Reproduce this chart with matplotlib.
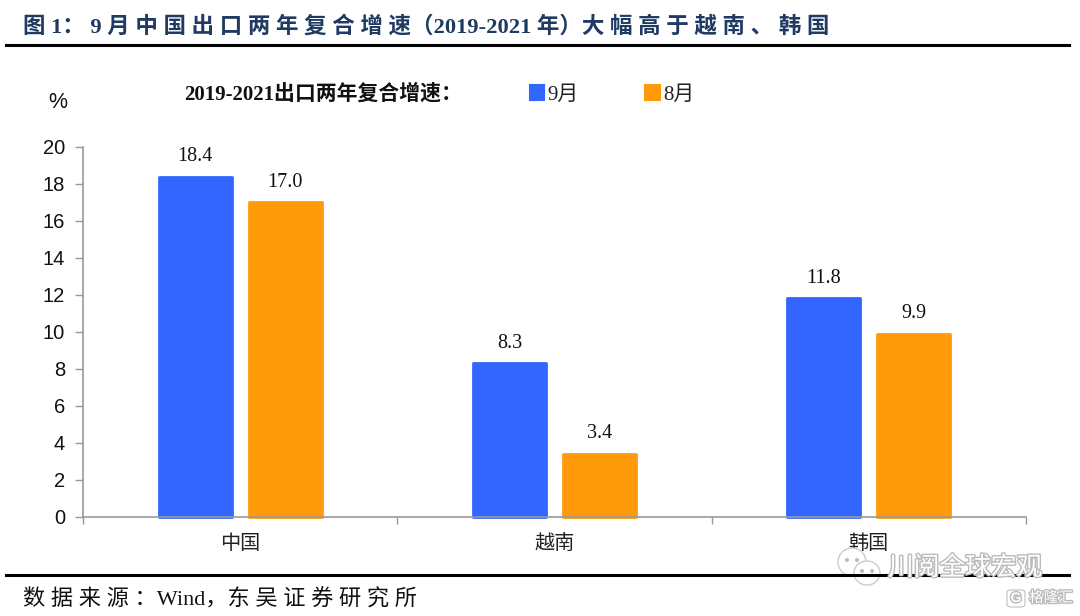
import matplotlib
matplotlib.use("Agg")
import matplotlib.pyplot as plt
from matplotlib.lines import Line2D
from matplotlib.patches import Ellipse, FancyBboxPatch, Patch
import matplotlib.patheffects as pe
import numpy as np

SERIF = ["Liberation Serif", "Noto Sans CJK SC"]
SANS = ["Liberation Sans", "Noto Sans CJK SC"]
plt.rcParams["font.family"] = SERIF

countries = ["中国", "越南", "韩国"]
sep_values = [18.4, 8.3, 11.8]
aug_values = [17.0, 3.4, 9.9]
y_ticks = list(range(0, 21, 2))
series_names = ["9月", "8月"]

BLUE = "#3366ff"
ORANGE = "#ff9a0a"
GREY = "#999999"
W, H = 1080, 616

fig = plt.figure(figsize=(10.8, 6.16), dpi=100)
ax = fig.add_axes([83 / W, 1 - 516.5 / H, 943 / W, 369.5 / H])


def spaced(s):
    return " ".join(s)


x = np.arange(len(countries))
width = 0.232
offset = 0.143
b1 = ax.bar(x - offset, sep_values, width, color=BLUE, edgecolor=BLUE, linewidth=2, zorder=2, clip_on=False)
b2 = ax.bar(x + offset, aug_values, width, color=ORANGE, edgecolor=ORANGE, linewidth=2, zorder=2, clip_on=False)
for bars in (b1, b2):
    for p in bars:
        p.set_joinstyle("round")
    ax.bar_label(bars, fmt="%.1f", padding=7.5, fontsize=14.5, color="#111111", family=SERIF)

ax.set_xlim(-0.5, 2.5)
ax.set_ylim(0, 20)
ax.set_yticks(y_ticks)
ax.tick_params(axis="y", labelsize=14.5, length=5.5, width=1, color=GREY, pad=7.5, labelcolor="#111111")
for lab in ax.get_yticklabels():
    lab.set_family(SANS)

# ticks sit between the categories, labels in the middle
ax.set_xticks([-0.5, 0.5, 1.5, 2.5])
ax.set_xticklabels([])
ax.set_xticks(x, countries, minor=True)
ax.tick_params(axis="x", which="major", length=5, width=1, color=GREY)
ax.tick_params(axis="x", which="minor", length=0, pad=13, labelsize=14.5, labelcolor="#222222")
for side in ("top", "right"):
    ax.spines[side].set_visible(False)
for side in ("left", "bottom"):
    ax.spines[side].set_color(GREY)
    ax.spines[side].set_linewidth(1.2)

# title and source
fig.text(23 / W, 1 - 27 / H, "图 1： 9 月 " + spaced("中国出口两年复合增速") + "（2019-2021 年）" + spaced("大幅高于越南、韩国"),
         fontsize=16.2, fontweight="bold", color="#1f3a63", va="center", ha="left")
fig.add_artist(Line2D([6 / W, 1069 / W], [1 - 45 / H] * 2, color="black", lw=2.2))
fig.add_artist(Line2D([6 / W, 1069 / W], [1 - 575 / H] * 2, color="black", lw=2.2))
fig.text(23 / W, 1 - 600 / H, spaced("数据来源：") + "Wind，" + spaced("东吴证券研究所"),
         fontsize=16, color="#111111", va="center", ha="left")

# legend row
fig.text(58 / W, 1 - 103 / H, "%", fontsize=15.5, family=SANS, color="#111111", ha="center", va="center")
fig.text(184 / W, 1 - 94 / H, "2019-2021出口两年复合增速：", fontsize=15, fontweight="bold",
         color="#111111", ha="left", va="center")
leg = fig.legend(handles=[Patch(facecolor=BLUE, edgecolor=BLUE, lw=1.5, label=series_names[0], joinstyle="round"),
                          Patch(facecolor=ORANGE, edgecolor=ORANGE, lw=1.5, label=series_names[1], joinstyle="round")],
                 loc="center left", bbox_to_anchor=(511 / W, 1 - 95 / H), ncol=2, frameon=False,
                 fontsize=15, handlelength=0.7, handleheight=0.7, handletextpad=0.15, columnspacing=3.2,
                 labelcolor="#222222")

# watermark
glow = [pe.withStroke(linewidth=2, foreground="#bbbbbb")]
fig.text(888 / W, 1 - 568 / H, "川阅全球宏观", fontsize=18.5, color="white", family=SANS,
         ha="left", va="center", path_effects=glow)
fig.text(1051 / W, 1 - 598 / H, "格隆汇", fontsize=10.5, color="white", family=SANS,
         ha="center", va="center", path_effects=glow)
fig.add_artist(FancyBboxPatch((1007 / W, 1 - 607 / H), 18 / W, 17 / H, boxstyle="round,pad=0,rounding_size=0.004",
                              transform=fig.transFigure, facecolor="white", edgecolor="#cccccc", lw=1))
fig.text(1016 / W, 1 - 598 / H, "G", fontsize=10, color="white", family=SANS, fontweight="bold",
         ha="center", va="center", path_effects=glow)
for cx, cy, rx, ry in [(852, 562, 14, 14), (867, 573, 13, 12)]:
    fig.add_artist(Ellipse((cx / W, 1 - cy / H), 2 * rx / W, 2 * ry / H, transform=fig.transFigure,
                           facecolor="white", edgecolor="#cccccc", lw=1))
    for dx in (-5, 5):
        fig.add_artist(Ellipse(((cx + dx) / W, 1 - (cy - 2) / H), 4 / W, 4 / H, transform=fig.transFigure,
                               facecolor="#bbbbbb", edgecolor="none"))

fig.savefig("out.png", dpi=100)
